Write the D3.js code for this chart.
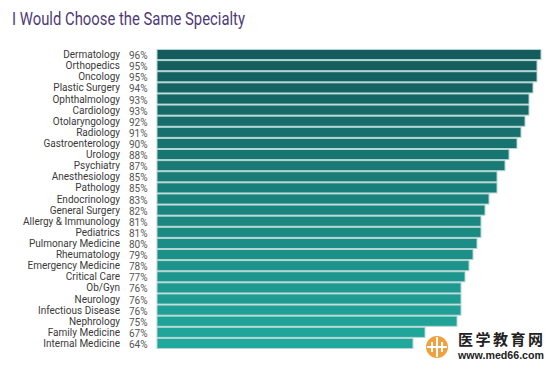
<!DOCTYPE html>
<html>
<head>
<meta charset="utf-8">
<script src="https://cdn.jsdelivr.net/npm/d3@7"></script>
<style>
  body { margin: 0; background: #fff; }
  svg { display: block; }
</style>
</head>
<body>
<div id="chart"></div>
<script>
var specialties = ["Dermatology", "Orthopedics", "Oncology", "Plastic Surgery", "Ophthalmology",
  "Cardiology", "Otolaryngology", "Radiology", "Gastroenterology", "Urology", "Psychiatry",
  "Anesthesiology", "Pathology", "Endocrinology", "General Surgery", "Allergy & Immunology",
  "Pediatrics", "Pulmonary Medicine", "Rheumatology", "Emergency Medicine", "Critical Care",
  "Ob/Gyn", "Neurology", "Infectious Disease", "Nephrology", "Family Medicine", "Internal Medicine"];
var percents = [96, 95, 95, 94, 93, 93, 92, 91, 90, 88, 87, 85, 85, 83, 82, 81, 81, 80, 79, 78, 77,
  76, 76, 76, 75, 67, 64];

var width = 550, height = 374;

var svg = d3.select("#chart").append("svg")
    .attr("width", width)
    .attr("height", height);

// title, squeezed to the width it has in the original
svg.append("text")
    .attr("x", 12)
    .attr("y", 25)
    .attr("fill", "#4e3b78")
    .attr("textLength", 233)
    .attr("lengthAdjust", "spacingAndGlyphs")
    .style("font-family", "Roboto")
    .style("font-size", "19px")
    .text("I Would Choose the Same Specialty");

var x = d3.scaleLinear()
    .domain([0, 100])
    .range([157, 557]);

var y = d3.scaleBand()
    .domain(specialties)
    .range([49, 349])
    .paddingInner(0);

var color = d3.scaleLinear()
    .domain([0, specialties.length - 1])
    .range(["#135b5c", "#20a89c"])
    .interpolate(d3.interpolateRgb);

var rows = svg.append("g").selectAll("g")
    .data(specialties)
    .enter().append("g");

rows.append("rect")
    .attr("x", x(0))
    .attr("y", function(d) { return y(d) + 0.5; })
    .attr("width", function(d, i) { return x(percents[i]) - x(0); })
    .attr("height", y.bandwidth() - 1)
    .attr("fill", function(d, i) { return color(i); })
    .attr("stroke", "#b4d6d3")
    .attr("stroke-width", 1);

rows.append("text")
    .attr("x", 120)
    .attr("y", function(d) { return y(d) + y.bandwidth() / 2; })
    .attr("dy", "0.35em")
    .attr("text-anchor", "end")
    .attr("fill", "#3a3a3a")
    .style("font-family", "Roboto")
    .style("font-size", "10px")
    .text(function(d) { return d; });

rows.append("text")
    .attr("x", 129)
    .attr("y", function(d) { return y(d) + y.bandwidth() / 2 + 1; })
    .attr("dy", "0.35em")
    .attr("fill", "#555")
    .style("font-family", "Roboto")
    .style("font-size", "10px")
    .text(function(d, i) { return percents[i] + "%"; });

// watermark
var wm = svg.append("g");
wm.append("circle")
    .attr("cx", 437)
    .attr("cy", 347)
    .attr("r", 11)
    .attr("fill", "#f2a03d");
wm.append("path")
    .attr("d", "M437,337V357M427,347H447M432,342V352M442,342V352")
    .attr("stroke", "#fff")
    .attr("stroke-width", 2)
    .attr("fill", "none");
wm.append("text")
    .attr("x", 458)
    .attr("y", 345)
    .attr("fill", "#222")
    .style("font-family", "Noto Sans CJK SC")
    .style("font-weight", "bold")
    .style("font-size", "15px")
    .style("letter-spacing", "2.5px")
    .text("医学教育网");
wm.append("text")
    .attr("x", 458)
    .attr("y", 359)
    .attr("fill", "#222")
    .attr("textLength", 86)
    .attr("lengthAdjust", "spacingAndGlyphs")
    .style("font-family", "Liberation Sans")
    .style("font-weight", "bold")
    .style("font-size", "11px")
    .text("www.med66.com");
</script>
</body>
</html>
